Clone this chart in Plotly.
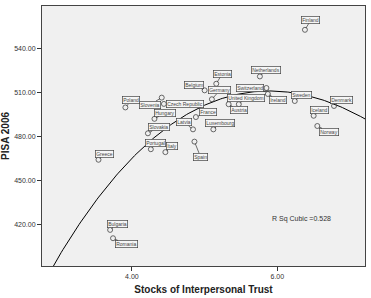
import numpy as np
import plotly.graph_objects as go

countries = ["Finland", "Netherlands", "Estonia", "Belgium", "Germany", "Switzerland",
             "Ireland", "United Kingdom", "Austria", "Sweden", "Denmark", "Iceland",
             "Norway", "France", "Luxembourg", "Latvia", "Spain", "Italy", "Portugal",
             "Slovakia", "Hungary", "Czech Republic", "Slovenia", "Poland", "Greece",
             "Bulgaria", "Romania"]
trust = [6.38, 5.76, 5.16, 5.00, 5.10, 5.85, 5.87, 5.47, 5.33, 6.24, 6.78, 6.50,
         6.55, 4.88, 5.12, 4.84, 4.86, 4.46, 4.26, 4.22, 4.31, 4.44, 4.41, 3.91, 3.54,
         3.70, 3.74]
pisa = [553.1, 521.2, 516.2, 511.7, 505.6, 513.3, 509.2, 502.2, 502.2, 504.4, 501.0,
        494.3, 487.3, 493.4, 485.0, 485.0, 476.6, 469.4, 471.4, 482.3, 492.2, 502.4,
        506.7, 500.0, 464.2, 416.2, 410.5]
label_dx = [6, 6, 6, -11, 8, -16, 10, 7, 10, 7, 7, 6, 12, 12, 7, -9, 6, 7, 5, 11, 11,
            21, -12, 6, 6, 7, 13]
label_dy = [-10, -6, -10, -5, -9, 0, 6, -6, 6, -6, -6, -6, 6, -5, -6, -7, 15, -6, -6,
            -6, -6, 0, 7, -7, -6, -6, 6]

x_ticks = [4.0, 6.0]
y_ticks = [420, 450, 480, 510, 540]

coef = np.polyfit(trust, pisa, 3)
xs = np.linspace(2.76, 7.21, 200)
ys = np.polyval(coef, xs)

fig = go.Figure()
fig.add_trace(go.Scatter(x=xs, y=ys, mode="lines",
                         line=dict(color="black", width=1), hoverinfo="skip"))
fig.add_trace(go.Scatter(x=trust, y=pisa, mode="markers",
                         marker=dict(symbol="circle-open", size=5,
                                     color="#444", line=dict(width=0.8))))

for c, x, y, dx, dy in zip(countries, trust, pisa, label_dx, label_dy):
    fig.add_annotation(x=x, y=y, text=c, showarrow=True, ax=dx, ay=dy,
                       arrowhead=0, arrowwidth=0.7, arrowcolor="#333", standoff=2,
                       font=dict(family="Liberation Sans", size=5, color="#444"),
                       bgcolor="#f6f6f6", bordercolor="#444", borderwidth=0.7,
                       borderpad=0.5)

fig.add_annotation(x=6.33, y=424, text="R Sq Cubic =0.528", showarrow=False,
                   font=dict(family="Liberation Sans", size=7, color="#333"))

fig.update_layout(
    width=371, height=298,
    margin=dict(l=37, r=6, t=5, b=31),
    paper_bgcolor="white", plot_bgcolor="#f0f0f0",
    showlegend=False,
    font=dict(family="Liberation Sans", color="#333"),
)
fig.update_xaxes(range=[2.763, 7.206], tickvals=x_ticks,
                 ticktext=[f"{v:.2f}" for v in x_ticks],
                 ticks="outside", ticklen=4, tickcolor="#333",
                 tickfont=dict(size=7), showgrid=False, zeroline=False,
                 showline=True, linecolor="#444", linewidth=1, mirror=True,
                 title=dict(text="<b>Stocks of Interpersonal Trust</b>",
                            font=dict(size=10, color="#222"), standoff=6))
fig.update_yaxes(range=[391.5, 569.4], tickvals=y_ticks,
                 ticktext=[f"{v:.2f}" for v in y_ticks],
                 ticks="outside", ticklen=4, tickcolor="#333",
                 tickfont=dict(size=7), showgrid=False, zeroline=False,
                 showline=True, linecolor="#444", linewidth=1, mirror=True,
                 title=dict(text="<b>PISA 2006</b>",
                            font=dict(size=10, color="#222"), standoff=2))

fig.write_html("out.html")
